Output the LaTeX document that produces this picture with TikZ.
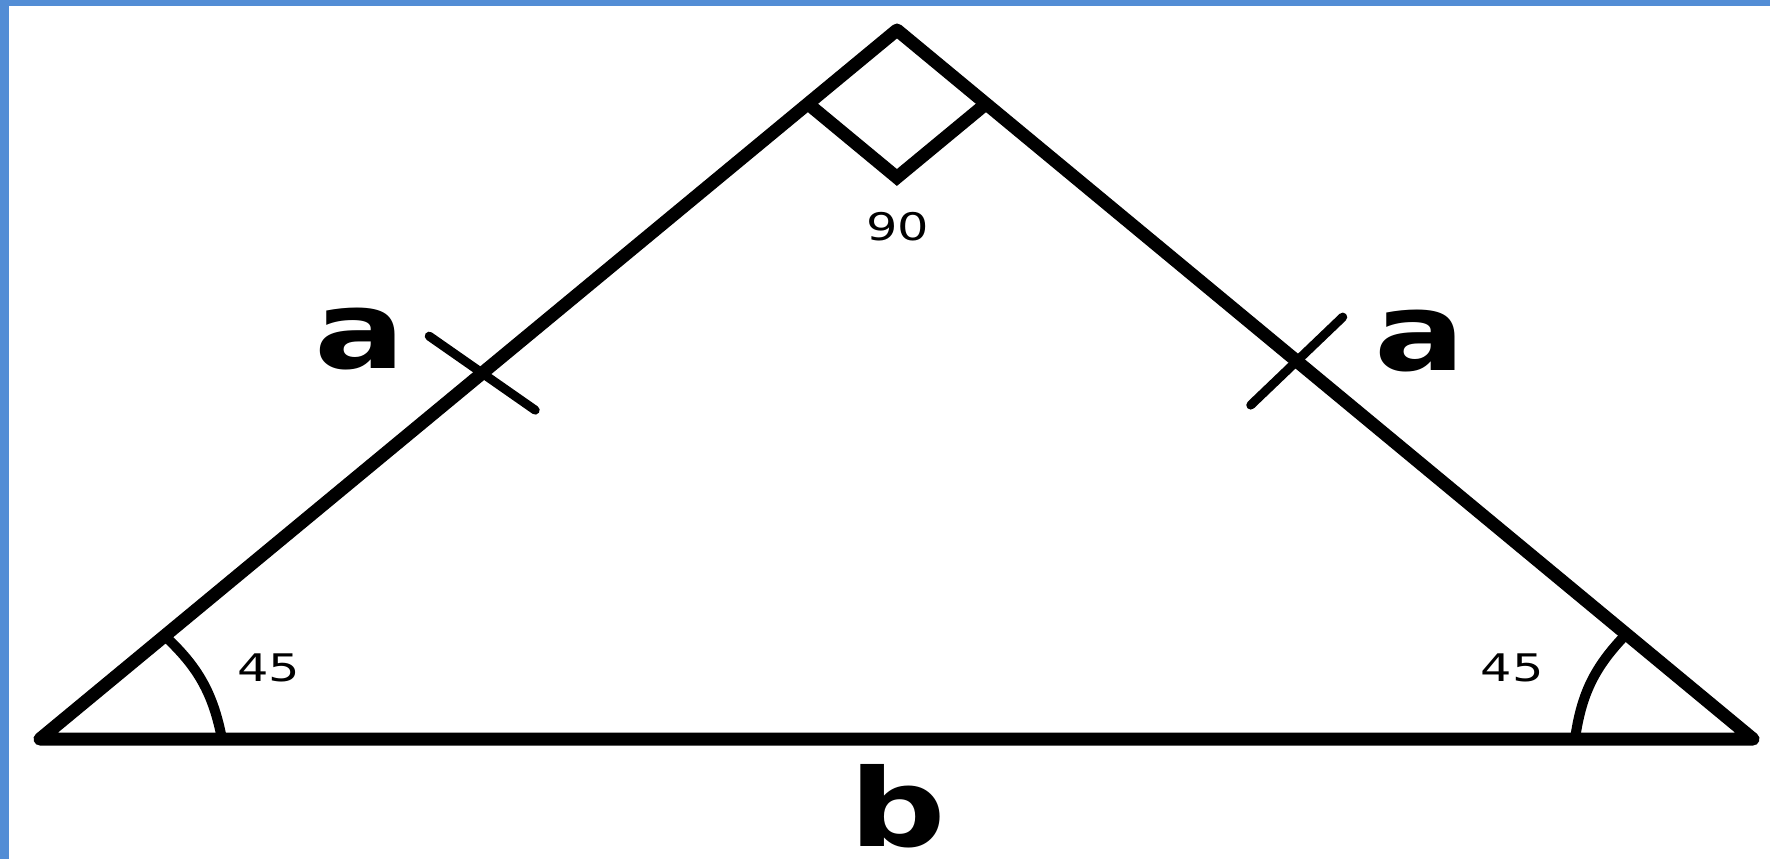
\documentclass[tikz,border=0pt]{standalone}
\usepackage{fontspec}
\usepackage{xcolor}
\usepackage{tikz}
\usetikzlibrary{calc}
\setmainfont{DejaVu Sans}[Numbers=Lining]
\definecolor{frameblue}{RGB}{83,141,213}

\begin{document}
\begin{tikzpicture}[x=1pt, y=-1pt,
    side/.style={line width=13pt, line cap=round, line join=round},
    rightmark/.style={line width=13pt, line join=miter},
    anglemark/.style={line width=10pt, line cap=round},
    tickmark/.style={line width=9pt, line cap=round},
    sidelabel/.style={inner sep=0pt, xscale=1.25, font=\fontsize{108}{108}\selectfont\bfseries},
    anglelabel/.style={inner sep=0pt, xscale=1.3, font=\fontsize{38}{38}\selectfont}]
    % Frame
    \useasboundingbox (0,0) rectangle (1770,859);
    \fill[frameblue] (0,0) rectangle (9,859);
    \fill[frameblue] (0,0) rectangle (1770,6);
    % Vertices
    \coordinate (L) at (40,739);
    \coordinate (R) at (1753,739);
    \coordinate (T) at (897,30);
    % Triangle
    \draw[side] (L) -- (T) -- (R) -- cycle;
    % Right angle
    \coordinate (M1) at ($(T)!0.104!(L)$);
    \coordinate (M2) at ($(T)!0.104!(R)$);
    \coordinate (M3) at ($(M1)+(M2)-(T)$);
    \draw[rightmark] (M1) -- (M3) -- (M2);
    % Angle arcs
    \coordinate (A1) at ($(L)!0.1455!(T)$);
    \coordinate (A2) at (222,739);
    \coordinate (B1) at ($(R)!0.148!(T)$);
    \coordinate (B2) at (1575,739);
    \draw[anglemark] (A1) to[bend left=18] (A2);
    \draw[anglemark] (B1) to[bend right=18] (B2);
    % Equal sides
    \coordinate (K1) at ($(L)!0.516!(T)$);
    \coordinate (K2) at ($(R)!0.533!(T)$);
    \draw[tickmark] ($(K1)+(-53,-37)$) -- ($(K1)+(53,37)$);
    \draw[tickmark] ($(K2)+(46,-44)$) -- ($(K2)+(-46,44)$);
    % Labels
    \node[anglelabel] (top90) at (898,227) {90};
    \node[anglelabel] (left45) at (269,668) {45};
    \node[anglelabel] (right45) at (1512,668) {45};
    \node[sidelabel] (lefta) at (360,339) {a};
    \node[sidelabel] (righta) at (1420,341) {a};
    \node[sidelabel] (baseb) at (898,806) {b};
\end{tikzpicture}
\end{document}
